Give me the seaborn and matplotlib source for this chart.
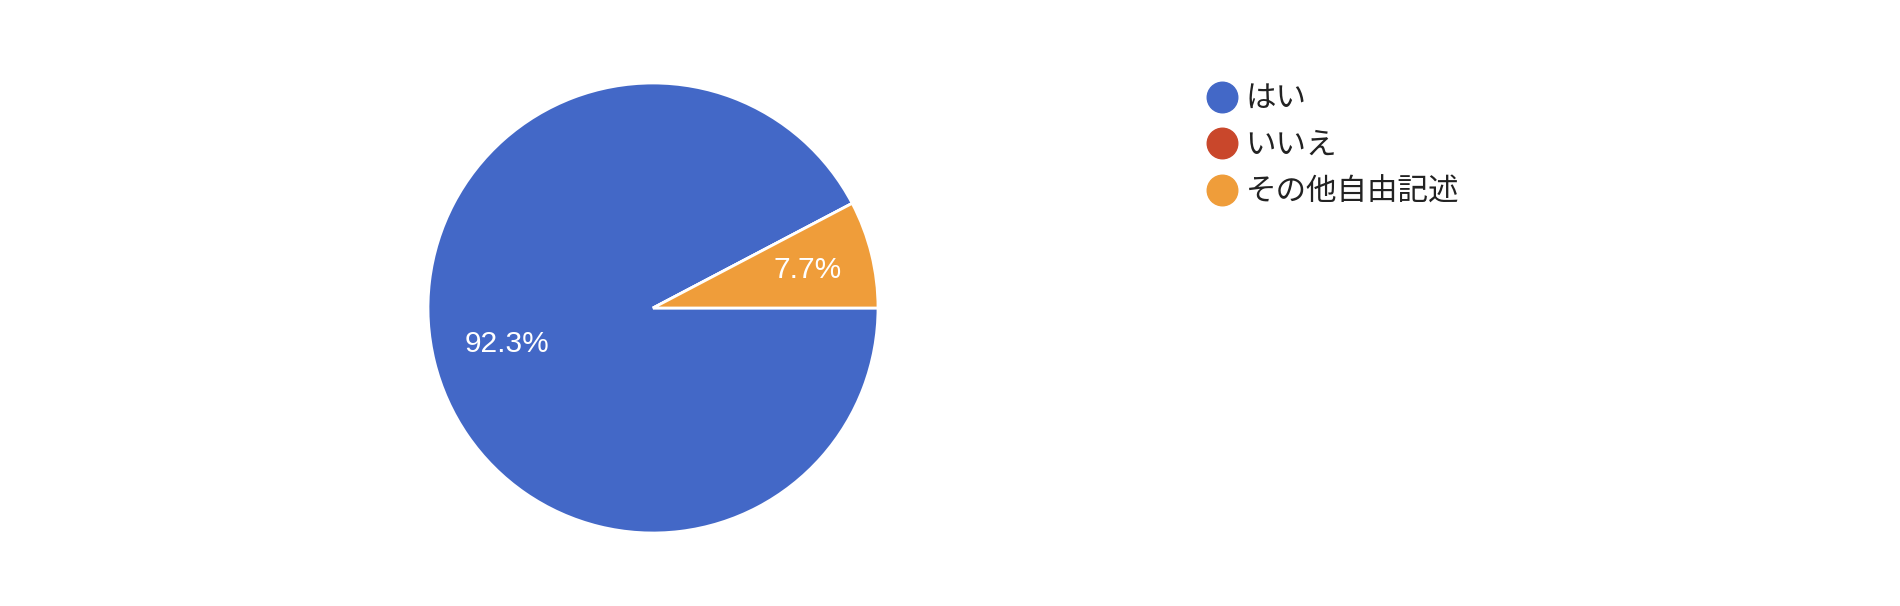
import matplotlib
matplotlib.use("Agg")
import matplotlib.pyplot as plt
from matplotlib.lines import Line2D
import seaborn as sns
import numpy as np

# data
labels = ["はい", "いいえ", "その他自由記述"]
values = [92.3, 0.0, 7.7]
colors = ["#4368C7", "#C9472B", "#EF9D3A"]

sns.set_theme(style="white")
plt.rcParams["font.family"] = ["Liberation Sans", "Noto Sans CJK JP", "DejaVu Sans"]

W, H = 1900, 606
fig = plt.figure(figsize=(W / 100, H / 100), dpi=100)
fig.patch.set_facecolor("white")

# pie axes: centre (653, 308), radius ~225 px
cx, cy, r = 653, 308, 225
ax = fig.add_axes([(cx - r) / W, (H - cy - r) / H, 2 * r / W, 2 * r / H])

def fmt(p):
    return f"{p:.1f}%" if p > 0 else ""

wedges, texts = ax.pie(
    values, colors=colors, startangle=0, counterclock=False,
    wedgeprops=dict(edgecolor="white", linewidth=2),
)[:2]
# percentage labels placed along each wedge's mid angle
total = sum(values)
ang = 0.0
for v in values:
    if v > 0:
        mid = np.deg2rad(ang - v / total * 180)
        d = 0.67 if v / total > 0.5 else 0.71
        ax.text(d * np.cos(mid), d * np.sin(mid), fmt(v / total * 100),
                ha="center", va="center", color="white", fontsize=21.5)
    ang -= v / total * 360
ax.set_xlim(-1, 1)
ax.set_ylim(-1, 1)
ax.set_aspect("equal")
ax.axis("off")

handles = [Line2D([0], [0], marker="o", linestyle="", markersize=22,
                  markerfacecolor=c, markeredgecolor=c) for c in colors]
leg = fig.legend(handles, labels, loc="upper left",
                 bbox_to_anchor=(1192 / W, 1 - 71 / H),
                 frameon=False, fontsize=22, labelspacing=0.52,
                 handletextpad=0.2, handlelength=1.15, borderaxespad=0)
for t in leg.get_texts():
    t.set_color("#222222")
    t.set_family(["Noto Sans CJK JP", "DejaVu Sans"])

fig.savefig("out.png", dpi=100, facecolor="white")
